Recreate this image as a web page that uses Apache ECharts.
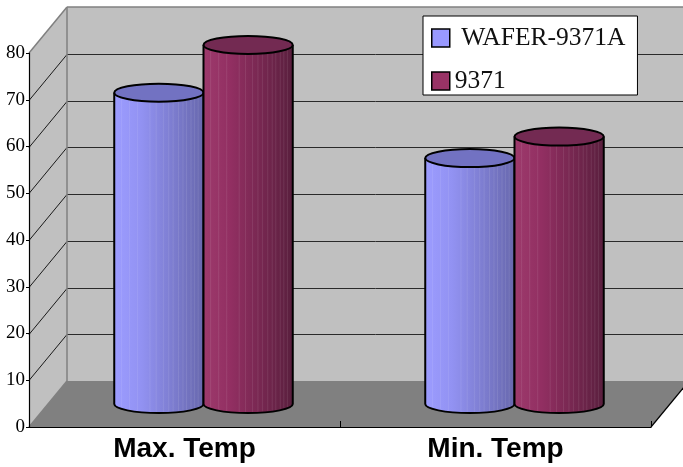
<!DOCTYPE html>
<html>
<head>
<meta charset="utf-8">
<script src="https://cdn.jsdelivr.net/npm/echarts@6/dist/echarts.min.js"></script>
<style>
  html, body { margin: 0; padding: 0; background: #ffffff; }
  #chart { width: 683px; height: 467px; }
</style>
</head>
<body>
<div id="chart"></div>
<script>
// Chart data
const categories = ['Max. Temp', 'Min. Temp'];
const seriesNames = ['WAFER-9371A', '9371'];
const waferValues = [66.6, 52.6];
const boardValues = [76.8, 57.2];
const yTicks = [0, 10, 20, 30, 40, 50, 60, 70, 80];

// 3D look: offset of the back wall relative to the front plane
const DX = 38;
const DY = -46;

// Faint vertical shading bands on the cylinder bodies (fractions of width)
const STRIPES = [0.08, 0.17, 0.26, 0.4, 0.47, 0.55, 0.61, 0.66, 0.72, 0.77, 0.81, 0.86, 0.9, 0.94];

const chart = echarts.init(document.getElementById('chart'), null, { renderer: 'canvas' });

// Walls, floor and gridlines of the 3D box
function renderFrame(params, api) {
  const cs = params.coordSys;
  const x0 = cs.x, x1 = cs.x + cs.width;
  const yTop = cs.y, yBot = cs.y + cs.height;
  const children = [];
  children.push({ type: 'polygon', shape: { points: [[x0 + DX, yTop + DY], [x1 + DX, yTop + DY], [x1 + DX, yBot + DY], [x0 + DX, yBot + DY]] }, style: { fill: '#c0c0c0' } });
  children.push({ type: 'polygon', shape: { points: [[x0, yBot], [x0, yTop], [x0 + DX, yTop + DY], [x0 + DX, yBot + DY]] }, style: { fill: '#c0c0c0' } });
  children.push({ type: 'polygon', shape: { points: [[x0, yBot], [x1, yBot], [x1 + DX, yBot + DY], [x0 + DX, yBot + DY]] }, style: { fill: '#808080' } });
  const maxV = yTicks[yTicks.length - 1];
  yTicks.forEach(function (v) {
    if (v === 0 || v === maxV) return;
    const y = Math.round(api.coord([0, v])[1]) + 0.5;
    children.push({ type: 'line', shape: { x1: x0, y1: y, x2: x0 + DX, y2: y + DY }, style: { stroke: '#1a1a1a', lineWidth: 1 } });
    children.push({ type: 'line', shape: { x1: x0 + DX, y1: y + DY, x2: x1 + DX, y2: y + DY }, style: { stroke: '#2a2a2a', lineWidth: 1 } });
  });
  const edge = { stroke: '#808080', lineWidth: 1.5 };
  children.push({ type: 'line', shape: { x1: x0, y1: yTop, x2: x0 + DX, y2: yTop + DY }, style: edge });
  children.push({ type: 'line', shape: { x1: x0 + DX, y1: yTop + DY, x2: x1 + DX, y2: yTop + DY }, style: edge });
  children.push({ type: 'line', shape: { x1: x0 + DX, y1: yTop + DY, x2: x0 + DX, y2: yBot + DY }, style: edge });
  children.push({ type: 'line', shape: { x1: x0, y1: yBot, x2: x0 + DX, y2: yBot + DY }, style: edge });
  children.push({ type: 'line', shape: { x1: x1, y1: yBot, x2: x1 + DX, y2: yBot + DY }, style: { stroke: '#000', lineWidth: 1.2 } });
  return { type: 'group', children: children };
}

// Cylinder drawn at mid depth of the box
function cylinderRenderer(side, bodyStops, topColor) {
  return function (params, api) {
    const cat = api.value(0);
    const val = api.value(1);
    const top = api.coord([cat, val]);
    const base = api.coord([cat, 0]);
    const band = api.size([1, 0])[0];
    const rx = band * 0.1435;
    const ry = 9;
    const cx = top[0] + DX / 2 + side * rx;
    const yt = top[1] + DY / 2;
    const yb = base[1] + DY / 2;
    const xl = cx - rx, xr = cx + rx;
    const body = 'M' + xl + ',' + yt + ' L' + xl + ',' + yb +
      ' A' + rx + ',' + ry + ' 0 0 0 ' + xr + ',' + yb + ' L' + xr + ',' + yt + ' Z';
    const outline = 'M' + xl + ',' + yt + ' L' + xl + ',' + yb +
      ' A' + rx + ',' + ry + ' 0 0 0 ' + xr + ',' + yb + ' L' + xr + ',' + yt;
    const cap = 'M' + xl + ',' + yt + ' A' + rx + ',' + ry + ' 0 1 0 ' + xr + ',' + yt +
      ' A' + rx + ',' + ry + ' 0 1 0 ' + xl + ',' + yt + ' Z';
    const children = [
      { type: 'path', shape: { pathData: body }, style: { fill: { type: 'linear', x: 0, y: 0, x2: 1, y2: 0, colorStops: bodyStops }, stroke: null } }
    ];
    STRIPES.forEach(function (f) {
      const x = xl + f * 2 * rx;
      const dy = ry * Math.sqrt(Math.max(0, 1 - Math.pow((x - cx) / rx, 2)));
      children.push({ type: 'line', shape: { x1: x, y1: yt, x2: x, y2: yb + dy - 1 }, style: { stroke: 'rgba(255,255,255,0.09)', lineWidth: 1 } });
    });
    children.push({ type: 'path', shape: { pathData: outline }, style: { fill: null, stroke: '#000', lineWidth: 2 } });
    children.push({ type: 'path', shape: { pathData: cap }, style: { fill: topColor, stroke: '#000', lineWidth: 2 } });
    return { type: 'group', children: children };
  };
}

const blueStops = [
  { offset: 0, color: '#9c9cff' },
  { offset: 0.3, color: '#9292f2' },
  { offset: 1, color: '#6868ae' }
];
const redStops = [
  { offset: 0, color: '#9d3a6c' },
  { offset: 0.3, color: '#922f62' },
  { offset: 1, color: '#5a1f3e' }
];

const option = {
  animation: false,
  backgroundColor: '#ffffff',
  grid: { left: 29, top: 53, width: 622, height: 374, containLabel: false },
  legend: {
    orient: 'vertical',
    left: 423,
    top: 16,
    padding: [9, 12, 1, 8],
    itemGap: 17,
    itemWidth: 18,
    itemHeight: 18,
    icon: 'rect',
    backgroundColor: '#ffffff',
    borderColor: '#000000',
    borderWidth: 1,
    borderRadius: 0,
    itemStyle: { borderColor: '#000', borderWidth: 1.5 },
    textStyle: { fontFamily: 'Liberation Serif', fontSize: 25.5, color: '#111' },
    formatter: function (name) { return name === seriesNames[0] ? ' ' + name : name; },
    data: seriesNames
  },
  xAxis: {
    type: 'category',
    data: categories,
    z: 5,
    axisLine: { lineStyle: { color: '#000', width: 1.2 } },
    axisTick: { show: true, inside: true, length: 6, lineStyle: { color: '#000' } },
    axisLabel: { fontFamily: 'Liberation Sans', fontWeight: 'bold', fontSize: 28, color: '#000', margin: 8 }
  },
  yAxis: {
    type: 'value',
    min: 0,
    max: 80,
    interval: 10,
    z: 5,
    axisLine: { show: true, lineStyle: { color: '#000', width: 1.2 } },
    axisTick: { show: true, length: 3, lineStyle: { color: '#000' } },
    axisLabel: { fontFamily: 'Liberation Serif', fontSize: 19, color: '#000', margin: 4 },
    splitLine: { show: false }
  },
  series: [
    {
      type: 'custom',
      name: 'frame',
      silent: true,
      clip: false,
      z: 1,
      renderItem: renderFrame,
      data: [[0, 0]]
    },
    {
      type: 'custom',
      name: seriesNames[0],
      clip: false,
      z: 2,
      itemStyle: { color: '#9999ff' },
      renderItem: cylinderRenderer(-1, blueStops, '#7272c2'),
      data: waferValues.map(function (v, i) { return [i, v]; })
    },
    {
      type: 'custom',
      name: seriesNames[1],
      clip: false,
      z: 3,
      itemStyle: { color: '#993366' },
      renderItem: cylinderRenderer(1, redStops, '#732a52'),
      data: boardValues.map(function (v, i) { return [i, v]; })
    }
  ]
};

chart.setOption(option);
</script>
</body>
</html>
